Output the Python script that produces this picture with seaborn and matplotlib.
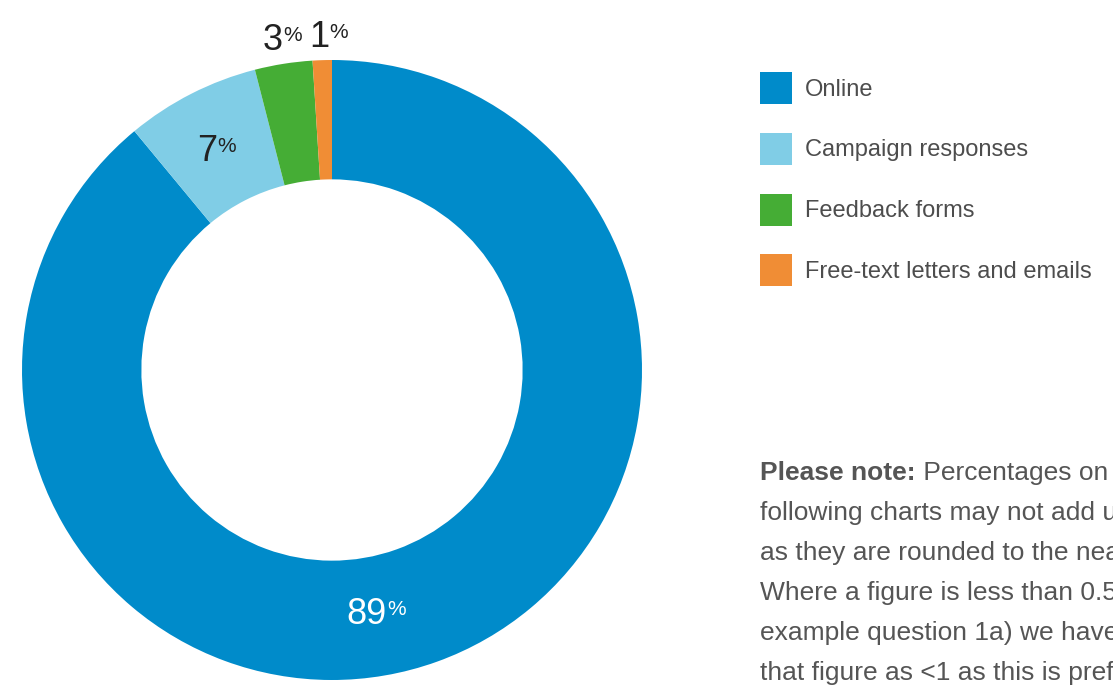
import matplotlib
matplotlib.use("Agg")
import matplotlib.pyplot as plt
import seaborn as sns

# ---- data ----
categories = ["Online", "Campaign responses", "Feedback forms", "Free-text letters and emails"]
values = [89, 7, 3, 1]
value_labels = ["89", "7", "3", "1"]
colors = ["#008bca", "#80cde6", "#45ad35", "#f08d35"]

note_bold = "Please note:"
note_lines = [
    " Percentages on the",
    "following charts may not add up",
    "as they are rounded to the nearest",
    "Where a figure is less than 0.5%",
    "example question 1a) we have",
    "that figure as <1 as this is preferable",
]

sns.set_theme(style="white")
plt.rcParams["font.family"] = ["Liberation Sans", "DejaVu Sans"]

W, H = 1113, 686
fig = plt.figure(figsize=(W / 100, H / 100), dpi=100)
fig.patch.set_facecolor("white")

# donut axes: centre (332,370) px, radius 310 px
cx, cy, R = 332, 370, 310
ax = fig.add_axes([(cx - R) / W, (H - cy - R) / H, 2 * R / W, 2 * R / H])
wedges, _ = ax.pie(values, colors=colors, startangle=90, counterclock=False,
                   radius=1, wedgeprops=dict(width=0.385, linewidth=0))
ax.set_xlim(-1, 1)
ax.set_ylim(-1, 1)
ax.axis("off")

def px(x, y):
    return ((x - cx) / R, (cy - y) / R)

# label style: (right edge px, baseline px, size, colour)
label_style = [
    (387, 624, 26, "white"),
    (217, 161, 26, "#222222"),
    (283, 50, 26, "#222222"),
    (329, 47, 26, "#222222"),
]
for lab, (x, y, fs, col) in zip(value_labels, label_style):
    dx, dy = px(x, y)
    t = ax.text(dx, dy, lab, ha="right", va="baseline", fontsize=fs, color=col,
                clip_on=False)
    ax.annotate("%", xy=(1, 1), xycoords=t, xytext=(0, -2), textcoords="offset points",
                ha="left", va="top", fontsize=15, color=col, annotation_clip=False)

# legend
fs_leg = 17
fs_px = fs_leg * 100 / 72
leg = fig.legend(wedges, categories, loc="upper left",
                 bbox_to_anchor=(760 / W, 1 - 72 / H), bbox_transform=fig.transFigure,
                 frameon=False, fontsize=fs_leg, borderpad=0, borderaxespad=0,
                 handlelength=32 / fs_px, handleheight=1.709, handletextpad=0.55,
                 labelspacing=1.22)
for txt in leg.get_texts():
    txt.set_color("#4d4d4d")

# note text
fs_note = 19
note_col = "#555555"
x0 = 760 / W
base0 = 480
spacing = 40
b = fig.text(x0, 1 - base0 / H, note_bold, fontsize=fs_note, fontweight="bold",
             color=note_col, ha="left", va="baseline")
ax.annotate(note_lines[0], xy=(1, 0), xycoords=b, xytext=(0, 0), textcoords="offset points",
            ha="left", va="bottom", fontsize=fs_note, color=note_col, annotation_clip=False)
for i, line in enumerate(note_lines[1:], start=1):
    fig.text(x0, 1 - (base0 + i * spacing) / H, line, fontsize=fs_note, color=note_col,
             ha="left", va="baseline")

fig.savefig("out.png", dpi=100, facecolor="white")
